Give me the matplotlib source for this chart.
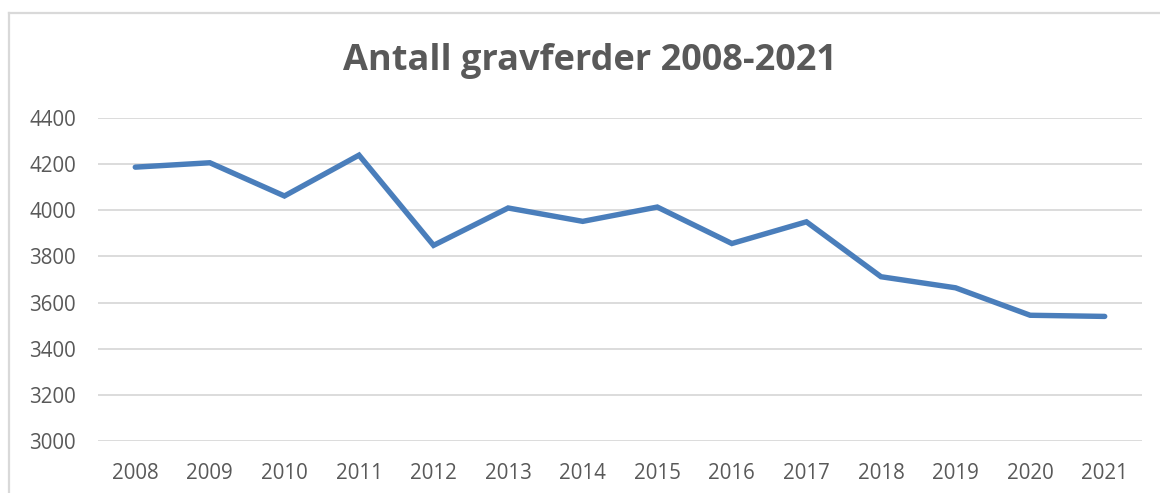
import matplotlib
matplotlib.use("Agg")
from matplotlib import pyplot as plt
from matplotlib.lines import Line2D

plt.rcParams['font.family'] = ['Open Sans', 'DejaVu Sans']

# Data
years = ['2008', '2009', '2010', '2011', '2012', '2013', '2014',
         '2015', '2016', '2017', '2018', '2019', '2020', '2021']
gravferder = [4187, 4206, 4062, 4239, 3848, 4010, 3952,
              4014, 3856, 3950, 3712, 3664, 3545, 3540]
y_ticks = [3000, 3200, 3400, 3600, 3800, 4000, 4200, 4400]

TEXT = '#595959'
GRID = '#D9D9D9'
LINE = '#4A7EBB'

W, H = 1160, 493
fig = plt.figure(figsize=(W / 100, H / 100), dpi=100)
fig.patch.set_facecolor('white')

# chart area border (only top + left visible in the crop)
fig.add_artist(Line2D([9 / W, 9 / W], [0, 1 - 13 / H], transform=fig.transFigure,
                      color=GRID, lw=1.6))
fig.add_artist(Line2D([9 / W, 1], [1 - 13 / H, 1 - 13 / H], transform=fig.transFigure,
                      color=GRID, lw=1.6))

ax = fig.add_axes([98 / W, 1 - 441 / H, (1142 - 98) / W, (441 - 118) / H])
x = list(range(len(years)))
ax.plot(x, gravferder, color=LINE, lw=3.9, solid_capstyle='round',
        solid_joinstyle='miter', zorder=3)

ax.set_xlim(-0.5, len(years) - 0.5)
ax.set_ylim(3000, 4400)
ax.set_yticks(y_ticks)
ax.set_yticklabels([str(v) for v in y_ticks])
ax.set_xticks(x)
ax.set_xticklabels(years)
ax.grid(axis='y', color=GRID, lw=1.3)
ax.set_axisbelow(True)
ax.tick_params(axis='both', length=0, colors=TEXT, labelsize=14.8)
ax.tick_params(axis='y', pad=16)
ax.tick_params(axis='x', pad=16)
for s in ax.spines.values():
    s.set_visible(False)

fig.text(590 / W, 1 - 61 / H, 'Antall gravferder 2008-2021', ha='center', va='center',
         fontsize=26, fontweight='bold', color=TEXT)

fig.savefig('out.png', dpi=100, facecolor='white')
